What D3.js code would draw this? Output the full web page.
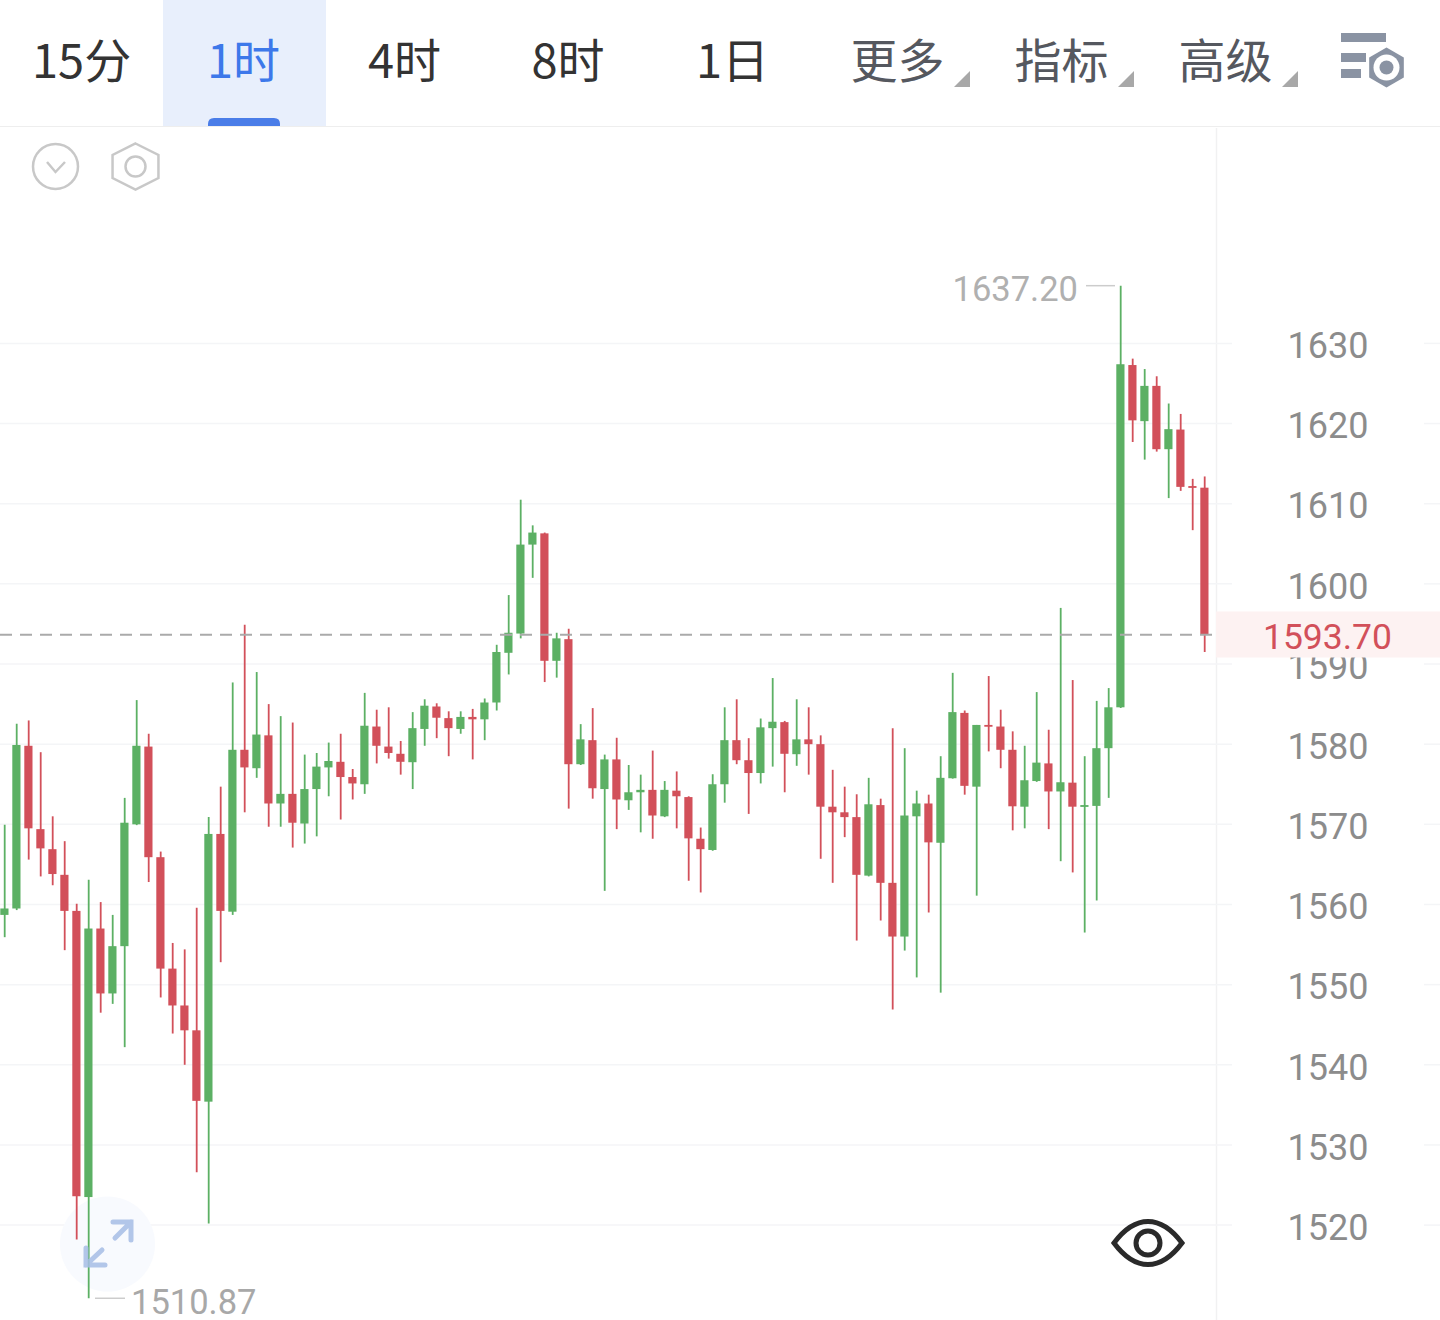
<!DOCTYPE html>
<html lang="zh">
<head>
<meta charset="utf-8">
<title>K线图 1时</title>
<style>
html,body{margin:0;padding:0;background:#fff;overflow:hidden}
svg{display:block}
</style>
<script src="https://cdn.jsdelivr.net/npm/d3@7/dist/d3.min.js"></script>
</head>
<body>
<svg id="chart" width="1440" height="1320"></svg>
<script>
const opens = [1558.7,1559.5,1579.8,1569.4,1566.9,1563.7,1559.2,1523.5,1557.0,1548.9,1554.8,1570.0,1579.7,1565.9,1552.0,1547.4,1544.3,1535.4,1568.8,1559.1,
  1579.3,1577.0,1581.1,1572.6,1573.8,1570.1,1574.4,1577.1,1577.8,1575.9,1575.0,1582.2,1579.7,1578.8,1577.75,1581.9,1584.7,1583.25,1581.9,1583.4,
  1583.1,1585.2,1591.4,1593.8,1604.9,1606.3,1590.4,1593.1,1577.5,1580.5,1574.4,1578.1,1573.0,1574.0,1574.3,1571.0,1574.2,1573.4,1568.2,1566.8,
  1575.0,1580.5,1578.0,1576.4,1582.0,1582.75,1578.75,1580.6,1580.0,1572.2,1571.5,1570.9,1563.6,1572.4,1562.7,1556.0,1571.0,1572.6,1567.7,1575.75,
  1583.9,1574.7,1582.4,1582.2,1579.3,1572.2,1575.4,1577.6,1574.1,1575.2,1572.2,1572.3,1579.5,1584.6,1627.3,1620.3,1624.7,1616.8,1619.25,1612.2,1612.0];
const closes = [1559.5,1579.9,1569.5,1567.0,1563.8,1559.2,1523.6,1557.0,1548.9,1554.8,1570.2,1579.8,1565.9,1552.0,1547.4,1544.3,1535.5,1568.8,1559.2,1579.3,
  1577.1,1581.2,1572.6,1573.8,1570.2,1574.4,1577.2,1577.9,1575.9,1575.1,1582.3,1579.8,1578.9,1577.8,1582.0,1584.8,1583.3,1582.0,1583.4,1583.1,
  1585.2,1591.5,1593.9,1604.9,1606.4,1590.4,1593.2,1577.5,1580.6,1574.5,1578.1,1573.1,1574.0,1574.3,1571.1,1574.3,1573.5,1568.25,1566.9,1575.0,
  1580.5,1578.0,1576.4,1582.1,1582.8,1578.8,1580.6,1580.0,1572.2,1571.5,1570.9,1563.7,1572.5,1562.7,1556.0,1571.1,1572.6,1567.75,1575.8,1584.0,
  1574.8,1582.4,1582.25,1579.3,1572.25,1575.5,1577.7,1574.1,1575.25,1572.2,1572.4,1579.5,1584.6,1627.4,1620.4,1624.7,1616.8,1619.3,1612.1,1612.0,1593.7];
const highs = [1569.95,1582.55,1582.96,1579.0,1571.0,1567.9,1560.1,1563.1,1560.3,1558.7,1573.3,1585.5,1581.3,1566.6,1555.2,1554.4,1559.6,1570.9,1574.7,1587.7,
  1594.9,1589.0,1585.0,1583.5,1582.7,1578.7,1578.9,1580.2,1581.3,1576.9,1586.4,1584.3,1584.6,1580.4,1584.0,1585.6,1585.1,1584.1,1584.1,1584.4,
  1585.7,1592.4,1598.6,1610.5,1607.3,1606.4,1593.9,1594.4,1582.5,1584.5,1578.7,1580.8,1577.4,1576.2,1579.2,1575.4,1576.6,1573.5,1569.6,1576.25,
  1584.6,1585.6,1580.75,1583.2,1588.25,1582.9,1585.6,1584.6,1581.1,1576.8,1574.7,1573.75,1575.8,1573.2,1582.0,1579.5,1574.2,1573.7,1578.5,1588.9,
  1584.2,1582.4,1588.5,1584.3,1581.6,1579.8,1586.5,1581.8,1597.0,1588.0,1578.5,1585.4,1587.0,1637.2,1628.1,1626.8,1625.9,1622.5,1621.2,1613.1,1613.4];
const lows = [1555.92,1559.3,1565.6,1563.5,1562.4,1554.3,1518.2,1510.87,1546.5,1547.6,1542.2,1569.9,1562.8,1548.4,1543.9,1540.0,1526.6,1520.2,1552.8,1558.7,
  1571.5,1575.8,1569.7,1569.7,1567.1,1567.6,1568.5,1573.5,1570.6,1573.1,1573.8,1577.6,1578.2,1576.2,1574.4,1579.8,1580.75,1578.5,1581.3,1578.1,
  1580.5,1584.2,1588.7,1593.2,1600.75,1587.75,1588.3,1571.96,1577.4,1573.2,1561.7,1569.4,1571.8,1569.0,1568.2,1570.9,1569.5,1562.96,1561.5,1566.7,
  1572.7,1577.5,1571.3,1575.1,1577.2,1574.0,1577.3,1576.2,1565.7,1562.7,1568.4,1555.5,1563.5,1558.0,1546.9,1554.25,1550.9,1559.0,1549.0,1575.7,
  1573.7,1561.1,1579.1,1577.0,1569.25,1569.5,1575.3,1569.4,1565.4,1564.0,1556.5,1560.5,1573.3,1584.5,1617.7,1615.5,1616.5,1610.7,1611.6,1606.7,1591.5];
const yTicks = [1630,1620,1610,1600,1590,1580,1570,1560,1550,1540,1530,1520];
const tabLabels = ["15分","1时","4时","8时","1日","更多","指标","高级"];
const tabStarts = [32,207,368,531.5,696,850.5,1014.5,1178.5];
const activeTab = "1时";
const menuTabs = ["更多","指标","高级"];
const triangleEnds = [970,1134,1298];
const lastPrice = 1593.70;
const highLabel = "1637.20";
const lowLabel = "1510.87";
const highValue = 1637.20;
const lowValue = 1510.87;

const GREEN = "#5cb064", RED = "#d2505a";
const svg = d3.select("#chart");
const UI = '"Noto Sans CJK SC","Noto Sans",sans-serif';
const NUM = 'Roboto,"Noto Sans",sans-serif';

const y = d3.scaleLinear().domain([1520,1630]).range([1225.1,343.4]);
const x = d3.scaleLinear().domain([0,opens.length-1]).range([4.7,1204.7]);
const candles = d3.range(opens.length).map(i=>({i,o:opens[i],c:closes[i],h:highs[i],l:lows[i]}));

// header
svg.append("rect").attr("x",163).attr("y",0).attr("width",163).attr("height",126).attr("fill","#e8effc");
svg.append("path").attr("d","M208,126 V124 Q208,118 214,118 H274 Q280,118 280,124 V126 Z").attr("fill","#4a7de8");
svg.append("line").attr("x1",0).attr("x2",1440).attr("y1",126.5).attr("y2",126.5).attr("stroke","#eeeeee");
svg.selectAll("text.tab").data(tabLabels).join("text").attr("class","tab")
  .attr("x",(d,i)=>tabStarts[i]).attr("y",77.5)
  .attr("font-family",UI).attr("font-size",47).attr("font-weight",400)
  .attr("fill",d=>d===activeTab?"#3d78ea":menuTabs.includes(d)?"#55585f":"#333333")
  .text(d=>d);
triangleEnds.forEach(s=>{
  svg.append("path").attr("d",`M${s-16},87 L${s},71 V87 Z`).attr("fill","#a8a8a8");
});

// settings icon
const hex=(cx,cy,rx,ry)=>d3.range(6).map(k=>{const a=Math.PI/3*k-Math.PI/2;return [cx+rx*Math.cos(a),cy+ry*Math.sin(a)];});
const hexPath=(cx,cy,rx,ry)=>"M"+hex(cx,cy,rx,ry).map(p=>p.join(",")).join("L")+"Z";
const ic=svg.append("g").attr("fill","#8a93a3");
ic.append("rect").attr("x",1341).attr("y",33).attr("width",45).attr("height",9);
ic.append("rect").attr("x",1341).attr("y",53).attr("width",25).attr("height",9);
ic.append("rect").attr("x",1341).attr("y",69).attr("width",20).attr("height",9);
ic.append("path").attr("d",hexPath(1386.5,67.5,20,20));
ic.append("circle").attr("cx",1386.5).attr("cy",67.5).attr("r",13).attr("fill","#fff");
ic.append("circle").attr("cx",1386.5).attr("cy",67.5).attr("r",7);

// small chart icons
const c1=svg.append("g").attr("fill","none").attr("stroke","#c8c8c8").attr("stroke-width",2.5);
c1.append("circle").attr("cx",55.5).attr("cy",166.5).attr("r",22.5);
c1.append("path").attr("d","M47,162 L55.5,172 L65,162");
c1.append("path").attr("d",hexPath(135.5,166.5,26.5,23));
c1.append("circle").attr("cx",135.5).attr("cy",166.5).attr("r",10);

// grid
svg.append("line").attr("x1",1216.5).attr("x2",1216.5).attr("y1",128).attr("y2",1320).attr("stroke","#f1f1f2").attr("stroke-width",1.5);
const grid=svg.append("g");
grid.selectAll("line.l").data(yTicks).join("line").attr("class","l")
  .attr("x1",0).attr("x2",1232).attr("y1",d=>y(d)).attr("y2",d=>y(d)).attr("stroke","#f4f5f7").attr("stroke-width",1.5);
grid.selectAll("line.r").data(yTicks).join("line").attr("class","r")
  .attr("x1",1424).attr("x2",1440).attr("y1",d=>y(d)).attr("y2",d=>y(d)).attr("stroke","#f4f5f7").attr("stroke-width",1.5);

// expand button background
svg.append("circle").attr("cx",107.5).attr("cy",1244).attr("r",47.5).attr("fill","#f8fafe");

// candles
const col=d=>d.c>=d.o?GREEN:RED;
const cg=svg.append("g");
cg.selectAll("line.wick").data(candles).join("line").attr("class","wick")
  .attr("x1",d=>x(d.i)).attr("x2",d=>x(d.i)).attr("y1",d=>y(d.h)).attr("y2",d=>y(d.l))
  .attr("stroke",col).attr("stroke-width",1.8);
cg.selectAll("rect.body").data(candles).join("rect").attr("class","body")
  .attr("x",d=>x(d.i)-4.4).attr("width",8.2)
  .attr("y",d=>y(Math.max(d.o,d.c)))
  .attr("height",d=>Math.max(1.8,Math.abs(y(d.o)-y(d.c))))
  .attr("fill",col);

// axis labels
const axis=d3.axisRight(y).tickValues(yTicks).tickSize(0).tickPadding(0).tickFormat(d3.format("d"));
const ag=svg.append("g").attr("transform","translate(1328,1.5)").call(axis);
ag.select(".domain").remove();
ag.selectAll("text").attr("x",0).attr("dy","0.355em").attr("text-anchor","middle")
  .attr("font-family",NUM).attr("font-size",36).attr("font-weight",400).attr("fill","#8c8c8c");

// last price
svg.append("rect").attr("x",1216).attr("y",611.5).attr("width",224).attr("height",46).attr("fill","#fdf2f2");
svg.append("text").attr("x",1327.5).attr("y",y(lastPrice)+15).attr("text-anchor","middle")
  .attr("font-family",NUM).attr("font-size",35.5).attr("font-weight",400).attr("fill",RED).text(lastPrice.toFixed(2));
svg.append("line").attr("x1",0).attr("x2",1212).attr("y1",y(lastPrice)+0.4).attr("y2",y(lastPrice)+0.4)
  .attr("stroke","#aaaaaa").attr("stroke-width",2).attr("stroke-dasharray","12 8");

// high / low labels
svg.append("line").attr("x1",1086).attr("x2",1115).attr("y1",y(highValue)).attr("y2",y(highValue)).attr("stroke","#cccccc").attr("stroke-width",1.5);
svg.append("text").attr("x",1078).attr("y",y(highValue)+15.5).attr("text-anchor","end")
  .attr("font-family",NUM).attr("font-size",34.5).attr("font-weight",400).attr("fill","#b0b0b0").text(highLabel);
svg.append("line").attr("x1",95).attr("x2",125).attr("y1",y(lowValue)).attr("y2",y(lowValue)).attr("stroke","#cccccc").attr("stroke-width",1.5);
svg.append("text").attr("x",131).attr("y",y(lowValue)+15.5).attr("text-anchor","start")
  .attr("font-family",NUM).attr("font-size",34.5).attr("font-weight",400).attr("fill","#a8a8a8").text(lowLabel);

// expand arrows
const ar=svg.append("g").attr("fill","none").attr("stroke","#a6bde6").attr("stroke-width",5).attr("stroke-linecap","round").attr("opacity",0.85);
ar.append("path").attr("d","M113,1222 H131 V1240 M131,1222 L115,1238");
ar.append("path").attr("d","M86,1248 V1265 H105 M86,1265 L102,1250");

// eye
const eye=svg.append("g").attr("fill","none").attr("stroke","#2a2a2a").attr("stroke-width",5);
eye.append("path").attr("d","M1114,1243 Q1130,1221.5 1148,1221.5 Q1166,1221.5 1182,1243 Q1166,1264.5 1148,1264.5 Q1130,1264.5 1114,1243 Z");
eye.append("circle").attr("cx",1148).attr("cy",1243).attr("r",12);
</script>
</body>
</html>
